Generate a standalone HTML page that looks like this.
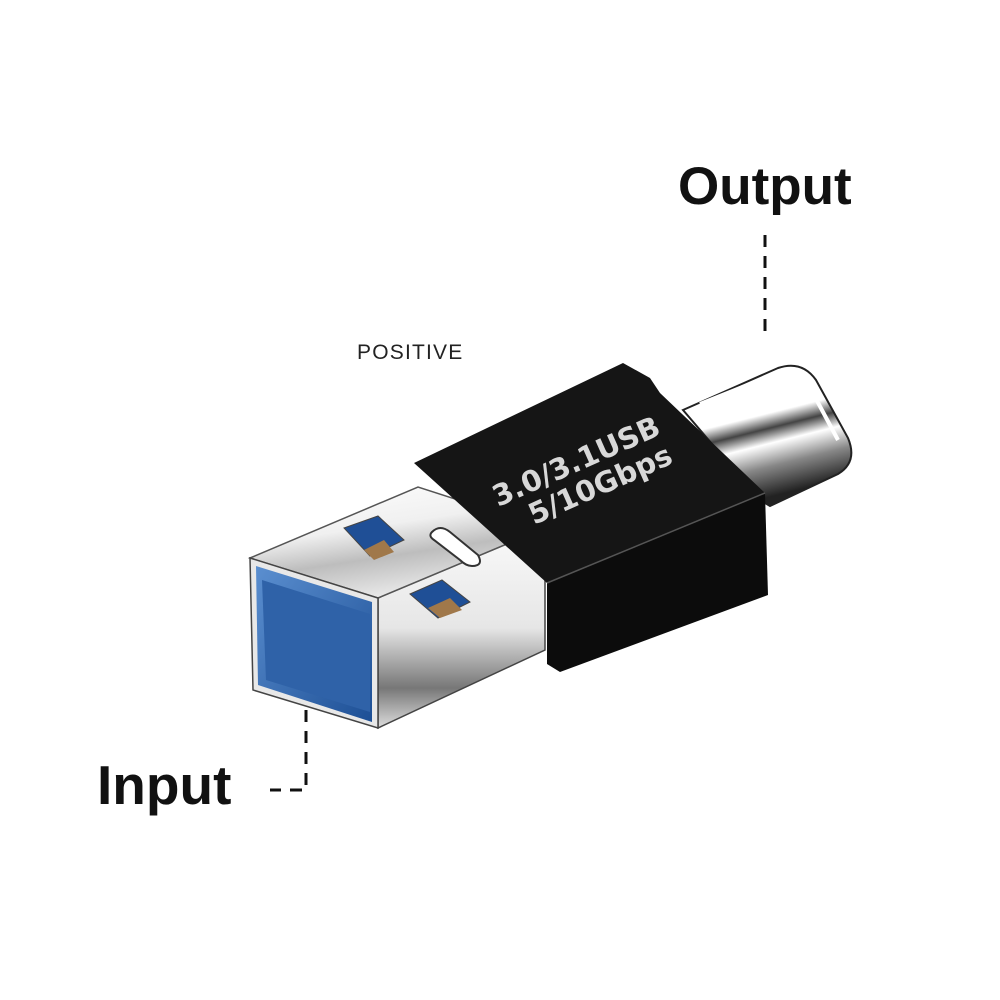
<!DOCTYPE html>
<html><head><style>
html,body{margin:0;padding:0;background:#fff;}
svg{display:block}
</style></head><body>
<svg width="1000" height="1000" viewBox="0 0 1000 1000" xmlns="http://www.w3.org/2000/svg">
<defs>
<linearGradient id="silver" x1="0" y1="0" x2="0.4" y2="1">
<stop offset="0" stop-color="#ffffff"/><stop offset="0.45" stop-color="#f0f0f0"/><stop offset="0.7" stop-color="#bdbdbd"/><stop offset="1" stop-color="#e8e8e8"/>
</linearGradient>
<linearGradient id="side" x1="0" y1="0" x2="0" y2="1">
<stop offset="0" stop-color="#fafafa"/><stop offset="0.5" stop-color="#e6e6e6"/><stop offset="0.8" stop-color="#777"/><stop offset="1" stop-color="#ddd"/>
</linearGradient>
<linearGradient id="ctube" x1="0" y1="0" x2="0.3" y2="1">
<stop offset="0" stop-color="#222"/><stop offset="0.12" stop-color="#fff"/><stop offset="0.45" stop-color="#fff"/><stop offset="0.55" stop-color="#444"/><stop offset="0.65" stop-color="#fff"/><stop offset="0.8" stop-color="#888"/><stop offset="1" stop-color="#222"/>
</linearGradient>
<linearGradient id="blue" x1="0" y1="0" x2="1" y2="1">
<stop offset="0" stop-color="#5b8fd0"/><stop offset="1" stop-color="#1d4f95"/>
</linearGradient>
</defs>

<text x="678" y="204" font-family="Liberation Sans, sans-serif" font-weight="bold" font-size="53" fill="#111">Output</text>
<line x1="765" y1="235" x2="765" y2="335" stroke="#111" stroke-width="3" stroke-dasharray="12,9"/>

<text x="357" y="359" font-family="Liberation Sans, sans-serif" font-size="21" letter-spacing="1.2" fill="#222">POSITIVE</text>

<text x="97" y="804" font-family="Liberation Sans, sans-serif" font-weight="bold" font-size="55" fill="#111">Input</text>
<polyline points="306,710 306,790 270,790" fill="none" stroke="#111" stroke-width="3" stroke-dasharray="12,9"/>

<path d="M683,410 L778,368 Q802,360 816,380 L848,438 Q858,462 838,474 L770,506 L760,500 Z" fill="url(#ctube)" stroke="#222" stroke-width="2"/>
<path d="M700,404 L780,372 Q798,368 808,384 L838,440" fill="none" stroke="#fff" stroke-width="4"/>

<polygon points="378,598 545,528 545,650 378,728" fill="url(#side)" stroke="#444" stroke-width="1.5"/>
<polygon points="250,558 418,487 545,528 378,598" fill="url(#silver)" stroke="#555" stroke-width="1.5"/>
<polygon points="250,558 378,598 378,728 253,690" fill="#e8e8e8" stroke="#444" stroke-width="1.5"/>
<polygon points="256,566 372,602 372,722 258,685" fill="url(#blue)"/>
<polygon points="262,580 370,614 370,712 266,680" fill="#2f62a8"/>

<polygon points="344,528 378,516 404,540 370,556" fill="#1f4f96" stroke="#444"/>
<polygon points="364,550 384,540 394,552 374,560" fill="#a0784a"/>
<polygon points="410,594 442,580 470,602 438,618" fill="#1f4f96" stroke="#444"/>
<polygon points="428,608 450,598 462,610 440,618" fill="#a0784a"/>
<path d="M432,532 Q440,524 450,532 L478,555 Q484,566 472,566 Q466,566 460,560 L434,540 Q428,536 432,532 Z" fill="#fff" stroke="#333" stroke-width="2"/>

<polygon points="414,463 623,363 650,378 660,393 765,493 547,583" fill="#151515"/>
<polygon points="547,583 765,493 768,595 560,672 547,664" fill="#0c0c0c"/>
<line x1="547" y1="583" x2="765" y2="493" stroke="#555" stroke-width="1.5"/>
<text transform="translate(498,507) rotate(-24)" font-family="DejaVu Sans, sans-serif" font-weight="bold" font-size="29" fill="#d8d8d8">3.0/3.1USB</text>
<text transform="translate(534,525) rotate(-24)" font-family="DejaVu Sans, sans-serif" font-weight="bold" font-size="29" fill="#d8d8d8">5/10Gbps</text>
</svg>
</body></html>
